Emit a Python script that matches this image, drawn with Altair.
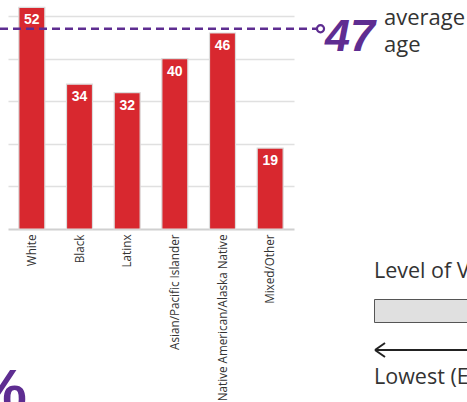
import altair as alt
import pandas as pd

groups = ["White", "Black", "Latinx", "Asian/Pacific Islander",
          "Native American/Alaska Native", "Mixed/Other"]
ages = [52, 34, 32, 40, 46, 19]
avg_age = [47]
grid_vals = [10, 20, 30, 40, 50]

df = pd.DataFrame({"group": groups, "age": ages})
df_avg = pd.DataFrame({"avg": avg_age})
one = pd.DataFrame({"k": [0]})

RED = "#d8282f"
PURPLE = "#5e2d91"
TXT = "#333333"
NARROW = "Liberation Sans, Arial, sans-serif"
SANS = "Open Sans, Noto Sans, sans-serif"

x = alt.X("group:N", sort=groups, title=None,
          scale=alt.Scale(paddingInner=0.455, paddingOuter=0.2275),
          axis=alt.Axis(labelAngle=-90, labelFont=SANS, labelFontSize=11.7,
                        labelColor=TXT, labelPadding=5, labelLimit=400,
                        ticks=False, domainColor="#d0d0d0", domainWidth=2))
y = alt.Y("age:Q", title=None,
          scale=alt.Scale(domain=[0, 53.75], nice=False, zero=True),
          axis=alt.Axis(values=grid_vals, labels=False, ticks=False, domain=False,
                        grid=True, gridColor="#e0e0e0", gridWidth=1.5))

bars = alt.Chart(df).mark_bar(color=RED, stroke="#dcdcdc", strokeWidth=1.2).encode(x=x, y=y)

labels = alt.Chart(df).mark_text(color="white", font=NARROW, fontWeight="bold",
                                 fontSize=14, baseline="top", dy=6).encode(
    x=alt.X("group:N", sort=groups), y=alt.Y("age:Q"), text="age:Q")

avg_rule = alt.Chart(df_avg).mark_rule(color=PURPLE, strokeWidth=2.5,
                                       strokeDash=[8, 5]).encode(
    x=alt.value(-8), x2=alt.value(309), y=alt.Y("avg:Q"))

avg_dot = alt.Chart(df_avg).mark_point(shape="circle", filled=True, fill="white",
                                       stroke=PURPLE, strokeWidth=2.2, size=50,
                                       opacity=1).encode(
    x=alt.value(312.5), y=alt.Y("avg:Q"))

avg_big = alt.Chart(df_avg).mark_text(color=PURPLE, font=NARROW, fontWeight="bold",
                                      fontStyle="italic", fontSize=45, align="right",
                                      baseline="alphabetic").encode(
    x=alt.value(367), y=alt.value(51), text="avg:Q")

avg_word1 = alt.Chart(one).mark_text(text="average", color=TXT, font=SANS, fontSize=22,
                                     align="left", baseline="alphabetic").encode(
    x=alt.value(376), y=alt.value(25))
avg_word2 = alt.Chart(one).mark_text(text="age", color=TXT, font=SANS, fontSize=22,
                                     align="left", baseline="alphabetic").encode(
    x=alt.value(376), y=alt.value(52))

pct = alt.Chart(one).mark_text(text="%", color=PURPLE, font=NARROW, fontWeight="bold",
                               fontSize=62, align="right", baseline="alphabetic").encode(
    x=alt.value(19), y=alt.value(412))

level = alt.Chart(one).mark_text(text="Level of V", color=TXT, font=SANS,
                                 fontSize=21.5, align="left", baseline="alphabetic").encode(
    x=alt.value(366), y=alt.value(278))

box = alt.Chart(one).mark_rect(fill="#e0e0e0", stroke="#555555", strokeWidth=1).encode(
    x=alt.value(366.5), x2=alt.value(480), y=alt.value(299.5), y2=alt.value(322.5))

arrow_line = alt.Chart(one).mark_rule(color="#222222", strokeWidth=2).encode(
    x=alt.value(367), x2=alt.value(480), y=alt.value(350))
arrow_h1 = alt.Chart(one).mark_rule(color="#222222", strokeWidth=2).encode(
    x=alt.value(367), x2=alt.value(377), y=alt.value(350), y2=alt.value(343))
arrow_h2 = alt.Chart(one).mark_rule(color="#222222", strokeWidth=2).encode(
    x=alt.value(367), x2=alt.value(377), y=alt.value(350), y2=alt.value(357))

lowest = alt.Chart(one).mark_text(text="Lowest (E", color=TXT, font=SANS,
                                  fontSize=21.5, align="left", baseline="alphabetic").encode(
    x=alt.value(366), y=alt.value(384))

chart = alt.layer(
    bars, labels, avg_rule, avg_dot, avg_big, avg_word1, avg_word2, pct,
    level, box, arrow_line, arrow_h1, arrow_h2, lowest
).properties(
    width=286, height=229,
    padding={"left": 8, "top": 0, "right": 173, "bottom": 173},
    autosize=alt.AutoSizeParams(type="none"),
    background="white",
).configure_view(stroke=None)

chart.save("out.html", embed_options={"renderer": "svg", "actions": False})
